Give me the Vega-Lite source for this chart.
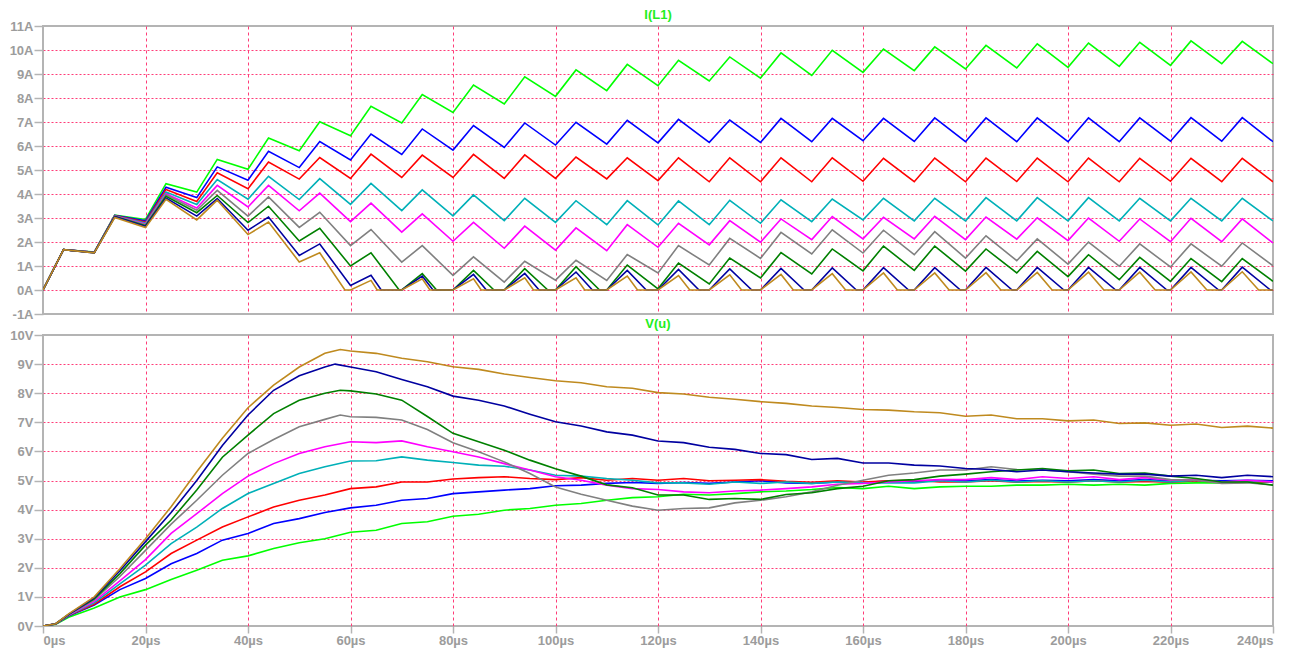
{
  "$schema": "https://vega.github.io/schema/vega-lite/v6.json",
  "background": "white",
  "padding": {"left": 8, "top": 8, "right": 0, "bottom": 0},
  "bounds": "flush",
  "spacing": 21,
  "config": {
    "font": "Liberation Sans",
    "view": {"stroke": "#b4b4b4", "strokeWidth": 2},
    "axis": {
      "labelColor": "#9c9c9c",
      "labelFont": "Liberation Sans",
      "labelFontWeight": "bold",
      "labelFontSize": 13,
      "tickColor": "#b4b4b4",
      "tickWidth": 1.5,
      "domain": false,
      "gridColor": "#ff3c78",
      "gridWidth": 1,
      "title": null
    },
    "title": {"font": "Liberation Sans", "fontSize": 13, "fontWeight": "bold", "color": "#22ee22", "anchor": "middle", "offset": -2}
  },
  "datasets": {
    "cur": [
      {"s":1,"t":0,"v":0},{"s":1,"t":4,"v":1.68},{"s":1,"t":10,"v":1.58},{"s":1,"t":14,"v":3.12},{"s":1,"t":20,"v":2.94},{"s":1,"t":24,"v":4.43},{"s":1,"t":30,"v":4.08},{"s":1,"t":34,"v":5.44},{"s":1,"t":40,"v":5.03},{"s":1,"t":44,"v":6.33},{"s":1,"t":50,"v":5.8},{"s":1,"t":54,"v":7.01},{"s":1,"t":60,"v":6.43},{"s":1,"t":64,"v":7.65},{"s":1,"t":70,"v":6.96},{"s":1,"t":74,"v":8.14},{"s":1,"t":80,"v":7.4},{"s":1,"t":84,"v":8.54},{"s":1,"t":90,"v":7.75},{"s":1,"t":94,"v":8.88},{"s":1,"t":100,"v":8.07},{"s":1,"t":104,"v":9.17},{"s":1,"t":110,"v":8.31},{"s":1,"t":114,"v":9.4},{"s":1,"t":120,"v":8.51},{"s":1,"t":124,"v":9.57},{"s":1,"t":130,"v":8.71},{"s":1,"t":134,"v":9.71},{"s":1,"t":140,"v":8.83},{"s":1,"t":144,"v":9.88},{"s":1,"t":150,"v":8.94},{"s":1,"t":154,"v":9.99},{"s":1,"t":160,"v":9.07},{"s":1,"t":164,"v":10.04},{"s":1,"t":170,"v":9.14},{"s":1,"t":174,"v":10.13},{"s":1,"t":180,"v":9.21},{"s":1,"t":184,"v":10.19},{"s":1,"t":190,"v":9.25},{"s":1,"t":194,"v":10.26},{"s":1,"t":200,"v":9.28},{"s":1,"t":204,"v":10.29},{"s":1,"t":210,"v":9.32},{"s":1,"t":214,"v":10.32},{"s":1,"t":220,"v":9.36},{"s":1,"t":224,"v":10.38},{"s":1,"t":230,"v":9.43},{"s":1,"t":234,"v":10.36},{"s":1,"t":240,"v":9.43},
      {"s":2,"t":0,"v":0},{"s":2,"t":4,"v":1.68},{"s":2,"t":10,"v":1.57},{"s":2,"t":14,"v":3.11},{"s":2,"t":20,"v":2.88},{"s":2,"t":24,"v":4.28},{"s":2,"t":30,"v":3.85},{"s":2,"t":34,"v":5.13},{"s":2,"t":40,"v":4.57},{"s":2,"t":44,"v":5.78},{"s":2,"t":50,"v":5.1},{"s":2,"t":54,"v":6.19},{"s":2,"t":60,"v":5.42},{"s":2,"t":64,"v":6.5},{"s":2,"t":70,"v":5.65},{"s":2,"t":74,"v":6.71},{"s":2,"t":80,"v":5.83},{"s":2,"t":84,"v":6.85},{"s":2,"t":90,"v":5.94},{"s":2,"t":94,"v":6.96},{"s":2,"t":100,"v":6.04},{"s":2,"t":104,"v":6.99},{"s":2,"t":110,"v":6.08},{"s":2,"t":114,"v":7.07},{"s":2,"t":120,"v":6.13},{"s":2,"t":124,"v":7.11},{"s":2,"t":130,"v":6.15},{"s":2,"t":134,"v":7.08},{"s":2,"t":140,"v":6.15},{"s":2,"t":144,"v":7.15},{"s":2,"t":150,"v":6.18},{"s":2,"t":154,"v":7.15},{"s":2,"t":160,"v":6.22},{"s":2,"t":164,"v":7.15},{"s":2,"t":170,"v":6.19},{"s":2,"t":174,"v":7.17},{"s":2,"t":180,"v":6.18},{"s":2,"t":184,"v":7.17},{"s":2,"t":190,"v":6.18},{"s":2,"t":194,"v":7.17},{"s":2,"t":200,"v":6.18},{"s":2,"t":204,"v":7.17},{"s":2,"t":210,"v":6.18},{"s":2,"t":214,"v":7.17},{"s":2,"t":220,"v":6.2},{"s":2,"t":224,"v":7.18},{"s":2,"t":230,"v":6.2},{"s":2,"t":234,"v":7.18},{"s":2,"t":240,"v":6.18},
      {"s":3,"t":0,"v":0},{"s":3,"t":4,"v":1.68},{"s":3,"t":10,"v":1.57},{"s":3,"t":14,"v":3.1},{"s":3,"t":20,"v":2.83},{"s":3,"t":24,"v":4.19},{"s":3,"t":30,"v":3.69},{"s":3,"t":34,"v":4.88},{"s":3,"t":40,"v":4.22},{"s":3,"t":44,"v":5.33},{"s":3,"t":50,"v":4.62},{"s":3,"t":54,"v":5.52},{"s":3,"t":60,"v":4.65},{"s":3,"t":64,"v":5.66},{"s":3,"t":70,"v":4.69},{"s":3,"t":74,"v":5.62},{"s":3,"t":80,"v":4.69},{"s":3,"t":84,"v":5.65},{"s":3,"t":90,"v":4.65},{"s":3,"t":94,"v":5.63},{"s":3,"t":100,"v":4.65},{"s":3,"t":104,"v":5.54},{"s":3,"t":110,"v":4.63},{"s":3,"t":114,"v":5.51},{"s":3,"t":120,"v":4.56},{"s":3,"t":124,"v":5.51},{"s":3,"t":130,"v":4.51},{"s":3,"t":134,"v":5.51},{"s":3,"t":140,"v":4.51},{"s":3,"t":144,"v":5.51},{"s":3,"t":150,"v":4.51},{"s":3,"t":154,"v":5.51},{"s":3,"t":160,"v":4.53},{"s":3,"t":164,"v":5.49},{"s":3,"t":170,"v":4.51},{"s":3,"t":174,"v":5.5},{"s":3,"t":180,"v":4.51},{"s":3,"t":184,"v":5.5},{"s":3,"t":190,"v":4.52},{"s":3,"t":194,"v":5.5},{"s":3,"t":200,"v":4.51},{"s":3,"t":204,"v":5.5},{"s":3,"t":210,"v":4.51},{"s":3,"t":214,"v":5.49},{"s":3,"t":220,"v":4.53},{"s":3,"t":224,"v":5.49},{"s":3,"t":230,"v":4.51},{"s":3,"t":234,"v":5.49},{"s":3,"t":240,"v":4.51},
      {"s":4,"t":0,"v":0},{"s":4,"t":4,"v":1.68},{"s":4,"t":10,"v":1.57},{"s":4,"t":14,"v":3.09},{"s":4,"t":20,"v":2.79},{"s":4,"t":24,"v":4.08},{"s":4,"t":30,"v":3.56},{"s":4,"t":34,"v":4.6},{"s":4,"t":40,"v":3.78},{"s":4,"t":44,"v":4.74},{"s":4,"t":50,"v":3.77},{"s":4,"t":54,"v":4.64},{"s":4,"t":60,"v":3.57},{"s":4,"t":64,"v":4.44},{"s":4,"t":70,"v":3.31},{"s":4,"t":74,"v":4.17},{"s":4,"t":80,"v":3.09},{"s":4,"t":84,"v":3.96},{"s":4,"t":90,"v":2.89},{"s":4,"t":94,"v":3.82},{"s":4,"t":100,"v":2.82},{"s":4,"t":104,"v":3.72},{"s":4,"t":110,"v":2.72},{"s":4,"t":114,"v":3.72},{"s":4,"t":120,"v":2.71},{"s":4,"t":124,"v":3.71},{"s":4,"t":130,"v":2.72},{"s":4,"t":134,"v":3.74},{"s":4,"t":140,"v":2.78},{"s":4,"t":144,"v":3.76},{"s":4,"t":150,"v":2.85},{"s":4,"t":154,"v":3.79},{"s":4,"t":160,"v":2.92},{"s":4,"t":164,"v":3.82},{"s":4,"t":170,"v":2.88},{"s":4,"t":174,"v":3.82},{"s":4,"t":180,"v":2.88},{"s":4,"t":184,"v":3.85},{"s":4,"t":190,"v":2.88},{"s":4,"t":194,"v":3.85},{"s":4,"t":200,"v":2.88},{"s":4,"t":204,"v":3.85},{"s":4,"t":210,"v":2.88},{"s":4,"t":214,"v":3.82},{"s":4,"t":220,"v":2.88},{"s":4,"t":224,"v":3.82},{"s":4,"t":230,"v":2.88},{"s":4,"t":234,"v":3.82},{"s":4,"t":240,"v":2.88},
      {"s":5,"t":0,"v":0},{"s":5,"t":4,"v":1.68},{"s":5,"t":10,"v":1.57},{"s":5,"t":14,"v":3.08},{"s":5,"t":20,"v":2.75},{"s":5,"t":24,"v":4.01},{"s":5,"t":30,"v":3.42},{"s":5,"t":34,"v":4.36},{"s":5,"t":40,"v":3.46},{"s":5,"t":44,"v":4.36},{"s":5,"t":50,"v":3.3},{"s":5,"t":54,"v":4.04},{"s":5,"t":60,"v":2.85},{"s":5,"t":64,"v":3.62},{"s":5,"t":70,"v":2.41},{"s":5,"t":74,"v":3.17},{"s":5,"t":80,"v":2.03},{"s":5,"t":84,"v":2.82},{"s":5,"t":90,"v":1.74},{"s":5,"t":94,"v":2.66},{"s":5,"t":100,"v":1.66},{"s":5,"t":104,"v":2.59},{"s":5,"t":110,"v":1.64},{"s":5,"t":114,"v":2.72},{"s":5,"t":120,"v":1.78},{"s":5,"t":124,"v":2.78},{"s":5,"t":130,"v":1.88},{"s":5,"t":134,"v":2.89},{"s":5,"t":140,"v":1.99},{"s":5,"t":144,"v":2.96},{"s":5,"t":150,"v":2.1},{"s":5,"t":154,"v":3.06},{"s":5,"t":160,"v":2.13},{"s":5,"t":164,"v":3.03},{"s":5,"t":170,"v":2.13},{"s":5,"t":174,"v":3.07},{"s":5,"t":180,"v":2.1},{"s":5,"t":184,"v":3.04},{"s":5,"t":190,"v":2.12},{"s":5,"t":194,"v":3.01},{"s":5,"t":200,"v":2.06},{"s":5,"t":204,"v":3.0},{"s":5,"t":210,"v":2.03},{"s":5,"t":214,"v":2.96},{"s":5,"t":220,"v":2.01},{"s":5,"t":224,"v":2.99},{"s":5,"t":230,"v":2.01},{"s":5,"t":234,"v":2.96},{"s":5,"t":240,"v":1.96},
      {"s":6,"t":0,"v":0},{"s":6,"t":4,"v":1.68},{"s":6,"t":10,"v":1.56},{"s":6,"t":14,"v":3.07},{"s":6,"t":20,"v":2.72},{"s":6,"t":24,"v":3.97},{"s":6,"t":30,"v":3.32},{"s":6,"t":34,"v":4.15},{"s":6,"t":40,"v":3.08},{"s":6,"t":44,"v":3.88},{"s":6,"t":50,"v":2.61},{"s":6,"t":54,"v":3.24},{"s":6,"t":60,"v":1.85},{"s":6,"t":64,"v":2.52},{"s":6,"t":70,"v":1.16},{"s":6,"t":74,"v":1.85},{"s":6,"t":80,"v":0.61},{"s":6,"t":84,"v":1.38},{"s":6,"t":90,"v":0.33},{"s":6,"t":94,"v":1.2},{"s":6,"t":100,"v":0.41},{"s":6,"t":104,"v":1.24},{"s":6,"t":110,"v":0.4},{"s":6,"t":114,"v":1.48},{"s":6,"t":120,"v":0.71},{"s":6,"t":124,"v":1.85},{"s":6,"t":130,"v":1.04},{"s":6,"t":134,"v":2.15},{"s":6,"t":140,"v":1.32},{"s":6,"t":144,"v":2.4},{"s":6,"t":150,"v":1.5},{"s":6,"t":154,"v":2.51},{"s":6,"t":160,"v":1.54},{"s":6,"t":164,"v":2.49},{"s":6,"t":170,"v":1.47},{"s":6,"t":174,"v":2.43},{"s":6,"t":180,"v":1.33},{"s":6,"t":184,"v":2.26},{"s":6,"t":190,"v":1.22},{"s":6,"t":194,"v":2.13},{"s":6,"t":200,"v":1.08},{"s":6,"t":204,"v":2.0},{"s":6,"t":210,"v":0.99},{"s":6,"t":214,"v":1.92},{"s":6,"t":220,"v":0.96},{"s":6,"t":224,"v":1.92},{"s":6,"t":230,"v":0.99},{"s":6,"t":234,"v":1.96},{"s":6,"t":240,"v":1.01},
      {"s":7,"t":0,"v":0},{"s":7,"t":4,"v":1.68},{"s":7,"t":10,"v":1.56},{"s":7,"t":14,"v":3.06},{"s":7,"t":20,"v":2.68},{"s":7,"t":24,"v":3.9},{"s":7,"t":30,"v":3.22},{"s":7,"t":34,"v":3.94},{"s":7,"t":40,"v":2.81},{"s":7,"t":44,"v":3.49},{"s":7,"t":50,"v":2.04},{"s":7,"t":54,"v":2.57},{"s":7,"t":60,"v":1.0},{"s":7,"t":64,"v":1.55},{"s":7,"t":69.5,"v":0},{"s":7,"t":70,"v":0},{"s":7,"t":74,"v":0.68},{"s":7,"t":76.8,"v":0},{"s":7,"t":80,"v":0},{"s":7,"t":84,"v":0.82},{"s":7,"t":88,"v":0},{"s":7,"t":90,"v":0},{"s":7,"t":94,"v":0.89},{"s":7,"t":98.5,"v":0},{"s":7,"t":100,"v":0},{"s":7,"t":104,"v":0.97},{"s":7,"t":108.6,"v":0},{"s":7,"t":110,"v":0},{"s":7,"t":114,"v":1.04},{"s":7,"t":120,"v":0.05},{"s":7,"t":124,"v":1.12},{"s":7,"t":130,"v":0.25},{"s":7,"t":134,"v":1.33},{"s":7,"t":140,"v":0.5},{"s":7,"t":144,"v":1.56},{"s":7,"t":150,"v":0.67},{"s":7,"t":154,"v":1.71},{"s":7,"t":160,"v":0.8},{"s":7,"t":164,"v":1.83},{"s":7,"t":170,"v":0.82},{"s":7,"t":174,"v":1.83},{"s":7,"t":180,"v":0.79},{"s":7,"t":184,"v":1.71},{"s":7,"t":190,"v":0.71},{"s":7,"t":194,"v":1.61},{"s":7,"t":200,"v":0.56},{"s":7,"t":204,"v":1.47},{"s":7,"t":210,"v":0.43},{"s":7,"t":214,"v":1.36},{"s":7,"t":220,"v":0.36},{"s":7,"t":224,"v":1.31},{"s":7,"t":230,"v":0.35},{"s":7,"t":234,"v":1.31},{"s":7,"t":240,"v":0.36},
      {"s":8,"t":0,"v":0},{"s":8,"t":4,"v":1.68},{"s":8,"t":10,"v":1.55},{"s":8,"t":14,"v":3.05},{"s":8,"t":20,"v":2.65},{"s":8,"t":24,"v":3.83},{"s":8,"t":30,"v":3.08},{"s":8,"t":34,"v":3.81},{"s":8,"t":40,"v":2.49},{"s":8,"t":44,"v":3.04},{"s":8,"t":50,"v":1.44},{"s":8,"t":54,"v":1.92},{"s":8,"t":60,"v":0.19},{"s":8,"t":64,"v":0.61},{"s":8,"t":66,"v":0},{"s":8,"t":70,"v":0},{"s":8,"t":74,"v":0.58},{"s":8,"t":76.1,"v":0},{"s":8,"t":80,"v":0},{"s":8,"t":84,"v":0.65},{"s":8,"t":86.5,"v":0},{"s":8,"t":90,"v":0},{"s":8,"t":94,"v":0.69},{"s":8,"t":96.8,"v":0},{"s":8,"t":100,"v":0},{"s":8,"t":104,"v":0.75},{"s":8,"t":107.2,"v":0},{"s":8,"t":110,"v":0},{"s":8,"t":114,"v":0.82},{"s":8,"t":117.7,"v":0},{"s":8,"t":120,"v":0},{"s":8,"t":124,"v":0.86},{"s":8,"t":128,"v":0},{"s":8,"t":130,"v":0},{"s":8,"t":134,"v":0.88},{"s":8,"t":138.3,"v":0},{"s":8,"t":140,"v":0},{"s":8,"t":144,"v":0.9},{"s":8,"t":148.5,"v":0},{"s":8,"t":150,"v":0},{"s":8,"t":154,"v":0.92},{"s":8,"t":158.7,"v":0},{"s":8,"t":160,"v":0},{"s":8,"t":164,"v":0.93},{"s":8,"t":168.9,"v":0},{"s":8,"t":170,"v":0},{"s":8,"t":174,"v":0.93},{"s":8,"t":179,"v":0},{"s":8,"t":180,"v":0},{"s":8,"t":184,"v":0.94},{"s":8,"t":189.1,"v":0},{"s":8,"t":190,"v":0},{"s":8,"t":194,"v":0.94},{"s":8,"t":199.2,"v":0},{"s":8,"t":200,"v":0},{"s":8,"t":204,"v":0.94},{"s":8,"t":209.3,"v":0},{"s":8,"t":210,"v":0},{"s":8,"t":214,"v":0.94},{"s":8,"t":219.3,"v":0},{"s":8,"t":220,"v":0},{"s":8,"t":224,"v":0.94},{"s":8,"t":229.4,"v":0},{"s":8,"t":230,"v":0},{"s":8,"t":234,"v":0.95},{"s":8,"t":239.5,"v":0},{"s":8,"t":240,"v":0},
      {"s":9,"t":0,"v":0},{"s":9,"t":4,"v":1.68},{"s":9,"t":10,"v":1.55},{"s":9,"t":14,"v":3.02},{"s":9,"t":20,"v":2.6},{"s":9,"t":24,"v":3.78},{"s":9,"t":30,"v":2.92},{"s":9,"t":34,"v":3.74},{"s":9,"t":40,"v":2.31},{"s":9,"t":44,"v":2.83},{"s":9,"t":50,"v":1.17},{"s":9,"t":54,"v":1.55},{"s":9,"t":58.9,"v":0},{"s":9,"t":60,"v":0},{"s":9,"t":64,"v":0.4},{"s":9,"t":65.2,"v":0},{"s":9,"t":70,"v":0},{"s":9,"t":74,"v":0.47},{"s":9,"t":75.5,"v":0},{"s":9,"t":80,"v":0},{"s":9,"t":84,"v":0.47},{"s":9,"t":85.5,"v":0},{"s":9,"t":90,"v":0},{"s":9,"t":94,"v":0.51},{"s":9,"t":95.7,"v":0},{"s":9,"t":100,"v":0},{"s":9,"t":104,"v":0.51},{"s":9,"t":105.7,"v":0},{"s":9,"t":110,"v":0},{"s":9,"t":114,"v":0.58},{"s":9,"t":116,"v":0},{"s":9,"t":120,"v":0},{"s":9,"t":124,"v":0.6},{"s":9,"t":126.2,"v":0},{"s":9,"t":130,"v":0},{"s":9,"t":134,"v":0.63},{"s":9,"t":136.3,"v":0},{"s":9,"t":140,"v":0},{"s":9,"t":144,"v":0.65},{"s":9,"t":146.4,"v":0},{"s":9,"t":150,"v":0},{"s":9,"t":154,"v":0.68},{"s":9,"t":156.6,"v":0},{"s":9,"t":160,"v":0},{"s":9,"t":164,"v":0.71},{"s":9,"t":166.7,"v":0},{"s":9,"t":170,"v":0},{"s":9,"t":174,"v":0.71},{"s":9,"t":176.8,"v":0},{"s":9,"t":180,"v":0},{"s":9,"t":184,"v":0.72},{"s":9,"t":186.9,"v":0},{"s":9,"t":190,"v":0},{"s":9,"t":194,"v":0.73},{"s":9,"t":196.9,"v":0},{"s":9,"t":200,"v":0},{"s":9,"t":204,"v":0.74},{"s":9,"t":207,"v":0},{"s":9,"t":210,"v":0},{"s":9,"t":214,"v":0.74},{"s":9,"t":217,"v":0},{"s":9,"t":220,"v":0},{"s":9,"t":224,"v":0.75},{"s":9,"t":227.1,"v":0},{"s":9,"t":230,"v":0},{"s":9,"t":234,"v":0.76},{"s":9,"t":237.2,"v":0},{"s":9,"t":240,"v":0}
    ],
    "volt": [
      {"s":1,"t":0,"v":0},{"s":1,"t":2.5,"v":0.06},{"s":1,"t":5,"v":0.3},{"s":1,"t":10,"v":0.62},{"s":1,"t":15,"v":1.0},{"s":1,"t":20,"v":1.25},{"s":1,"t":25,"v":1.6},{"s":1,"t":30,"v":1.92},{"s":1,"t":35,"v":2.26},{"s":1,"t":40,"v":2.41},{"s":1,"t":45,"v":2.66},{"s":1,"t":50,"v":2.86},{"s":1,"t":55,"v":3.0},{"s":1,"t":60,"v":3.22},{"s":1,"t":65,"v":3.29},{"s":1,"t":70,"v":3.52},{"s":1,"t":75,"v":3.58},{"s":1,"t":80,"v":3.77},{"s":1,"t":85,"v":3.84},{"s":1,"t":90,"v":3.98},{"s":1,"t":95,"v":4.04},{"s":1,"t":100,"v":4.15},{"s":1,"t":105,"v":4.21},{"s":1,"t":110,"v":4.32},{"s":1,"t":115,"v":4.41},{"s":1,"t":120,"v":4.44},{"s":1,"t":125,"v":4.53},{"s":1,"t":130,"v":4.5},{"s":1,"t":135,"v":4.55},{"s":1,"t":140,"v":4.61},{"s":1,"t":145,"v":4.64},{"s":1,"t":150,"v":4.69},{"s":1,"t":155,"v":4.76},{"s":1,"t":160,"v":4.72},{"s":1,"t":165,"v":4.8},{"s":1,"t":170,"v":4.72},{"s":1,"t":175,"v":4.78},{"s":1,"t":180,"v":4.8},{"s":1,"t":185,"v":4.8},{"s":1,"t":190,"v":4.84},{"s":1,"t":195,"v":4.84},{"s":1,"t":200,"v":4.87},{"s":1,"t":205,"v":4.84},{"s":1,"t":210,"v":4.87},{"s":1,"t":215,"v":4.84},{"s":1,"t":220,"v":4.9},{"s":1,"t":225,"v":4.92},{"s":1,"t":230,"v":4.92},{"s":1,"t":235,"v":4.93},{"s":1,"t":240,"v":4.95},
      {"s":2,"t":0,"v":0},{"s":2,"t":2.5,"v":0.07},{"s":2,"t":5,"v":0.34},{"s":2,"t":10,"v":0.72},{"s":2,"t":15,"v":1.25},{"s":2,"t":20,"v":1.63},{"s":2,"t":25,"v":2.14},{"s":2,"t":30,"v":2.49},{"s":2,"t":35,"v":2.95},{"s":2,"t":40,"v":3.18},{"s":2,"t":45,"v":3.52},{"s":2,"t":50,"v":3.69},{"s":2,"t":55,"v":3.9},{"s":2,"t":60,"v":4.06},{"s":2,"t":65,"v":4.15},{"s":2,"t":70,"v":4.32},{"s":2,"t":75,"v":4.38},{"s":2,"t":80,"v":4.55},{"s":2,"t":85,"v":4.61},{"s":2,"t":90,"v":4.67},{"s":2,"t":95,"v":4.72},{"s":2,"t":100,"v":4.82},{"s":2,"t":105,"v":4.84},{"s":2,"t":110,"v":4.9},{"s":2,"t":115,"v":4.93},{"s":2,"t":120,"v":4.9},{"s":2,"t":125,"v":4.93},{"s":2,"t":130,"v":4.9},{"s":2,"t":135,"v":4.95},{"s":2,"t":140,"v":4.99},{"s":2,"t":145,"v":4.92},{"s":2,"t":150,"v":4.9},{"s":2,"t":155,"v":4.95},{"s":2,"t":160,"v":4.92},{"s":2,"t":165,"v":4.99},{"s":2,"t":170,"v":4.95},{"s":2,"t":175,"v":5.01},{"s":2,"t":180,"v":4.99},{"s":2,"t":185,"v":5.03},{"s":2,"t":190,"v":4.98},{"s":2,"t":195,"v":5.01},{"s":2,"t":200,"v":4.99},{"s":2,"t":205,"v":5.03},{"s":2,"t":210,"v":4.99},{"s":2,"t":215,"v":5.03},{"s":2,"t":220,"v":4.99},{"s":2,"t":225,"v":5.01},{"s":2,"t":230,"v":4.99},{"s":2,"t":235,"v":5.01},{"s":2,"t":240,"v":4.99},
      {"s":3,"t":0,"v":0},{"s":3,"t":2.5,"v":0.07},{"s":3,"t":5,"v":0.36},{"s":3,"t":10,"v":0.75},{"s":3,"t":15,"v":1.35},{"s":3,"t":20,"v":1.86},{"s":3,"t":25,"v":2.49},{"s":3,"t":30,"v":2.95},{"s":3,"t":35,"v":3.4},{"s":3,"t":40,"v":3.75},{"s":3,"t":45,"v":4.09},{"s":3,"t":50,"v":4.32},{"s":3,"t":55,"v":4.5},{"s":3,"t":60,"v":4.72},{"s":3,"t":65,"v":4.78},{"s":3,"t":70,"v":4.95},{"s":3,"t":75,"v":4.95},{"s":3,"t":80,"v":5.05},{"s":3,"t":85,"v":5.1},{"s":3,"t":90,"v":5.13},{"s":3,"t":95,"v":5.07},{"s":3,"t":100,"v":5.03},{"s":3,"t":105,"v":5.1},{"s":3,"t":110,"v":5.01},{"s":3,"t":115,"v":5.07},{"s":3,"t":120,"v":5.01},{"s":3,"t":125,"v":5.07},{"s":3,"t":130,"v":4.99},{"s":3,"t":135,"v":5.01},{"s":3,"t":140,"v":5.03},{"s":3,"t":145,"v":4.97},{"s":3,"t":150,"v":4.94},{"s":3,"t":155,"v":4.99},{"s":3,"t":160,"v":4.95},{"s":3,"t":165,"v":4.99},{"s":3,"t":170,"v":5.01},{"s":3,"t":175,"v":4.95},{"s":3,"t":180,"v":4.95},{"s":3,"t":185,"v":4.99},{"s":3,"t":190,"v":4.94},{"s":3,"t":195,"v":4.97},{"s":3,"t":200,"v":4.94},{"s":3,"t":205,"v":4.99},{"s":3,"t":210,"v":4.94},{"s":3,"t":215,"v":4.97},{"s":3,"t":220,"v":4.94},{"s":3,"t":225,"v":4.99},{"s":3,"t":230,"v":4.94},{"s":3,"t":235,"v":4.97},{"s":3,"t":240,"v":4.94},
      {"s":4,"t":0,"v":0},{"s":4,"t":2.5,"v":0.07},{"s":4,"t":5,"v":0.37},{"s":4,"t":10,"v":0.8},{"s":4,"t":15,"v":1.45},{"s":4,"t":20,"v":2.09},{"s":4,"t":25,"v":2.83},{"s":4,"t":30,"v":3.4},{"s":4,"t":35,"v":4.04},{"s":4,"t":40,"v":4.55},{"s":4,"t":45,"v":4.9},{"s":4,"t":50,"v":5.24},{"s":4,"t":55,"v":5.47},{"s":4,"t":60,"v":5.67},{"s":4,"t":65,"v":5.68},{"s":4,"t":70,"v":5.81},{"s":4,"t":75,"v":5.7},{"s":4,"t":80,"v":5.62},{"s":4,"t":85,"v":5.53},{"s":4,"t":90,"v":5.49},{"s":4,"t":95,"v":5.36},{"s":4,"t":100,"v":5.18},{"s":4,"t":105,"v":5.15},{"s":4,"t":110,"v":5.07},{"s":4,"t":115,"v":5.01},{"s":4,"t":120,"v":4.92},{"s":4,"t":125,"v":4.92},{"s":4,"t":130,"v":4.87},{"s":4,"t":135,"v":4.95},{"s":4,"t":140,"v":4.9},{"s":4,"t":145,"v":4.95},{"s":4,"t":150,"v":4.9},{"s":4,"t":155,"v":4.95},{"s":4,"t":160,"v":4.92},{"s":4,"t":165,"v":4.92},{"s":4,"t":170,"v":4.92},{"s":4,"t":175,"v":4.99},{"s":4,"t":180,"v":4.95},{"s":4,"t":185,"v":5.01},{"s":4,"t":190,"v":4.95},{"s":4,"t":195,"v":4.99},{"s":4,"t":200,"v":4.95},{"s":4,"t":205,"v":4.99},{"s":4,"t":210,"v":4.95},{"s":4,"t":215,"v":5.01},{"s":4,"t":220,"v":4.95},{"s":4,"t":225,"v":5.01},{"s":4,"t":230,"v":4.95},{"s":4,"t":235,"v":4.99},{"s":4,"t":240,"v":4.95},
      {"s":5,"t":0,"v":0},{"s":5,"t":2.5,"v":0.08},{"s":5,"t":5,"v":0.38},{"s":5,"t":10,"v":0.85},{"s":5,"t":15,"v":1.55},{"s":5,"t":20,"v":2.28},{"s":5,"t":25,"v":3.18},{"s":5,"t":30,"v":3.86},{"s":5,"t":35,"v":4.55},{"s":5,"t":40,"v":5.15},{"s":5,"t":45,"v":5.58},{"s":5,"t":50,"v":5.93},{"s":5,"t":55,"v":6.16},{"s":5,"t":60,"v":6.33},{"s":5,"t":65,"v":6.3},{"s":5,"t":70,"v":6.36},{"s":5,"t":75,"v":6.16},{"s":5,"t":80,"v":5.99},{"s":5,"t":85,"v":5.81},{"s":5,"t":90,"v":5.58},{"s":5,"t":95,"v":5.36},{"s":5,"t":100,"v":5.13},{"s":5,"t":105,"v":5.01},{"s":5,"t":110,"v":4.84},{"s":5,"t":115,"v":4.72},{"s":5,"t":120,"v":4.69},{"s":5,"t":125,"v":4.61},{"s":5,"t":130,"v":4.58},{"s":5,"t":135,"v":4.64},{"s":5,"t":140,"v":4.67},{"s":5,"t":145,"v":4.72},{"s":5,"t":150,"v":4.78},{"s":5,"t":155,"v":4.87},{"s":5,"t":160,"v":4.9},{"s":5,"t":165,"v":4.95},{"s":5,"t":170,"v":4.99},{"s":5,"t":175,"v":5.03},{"s":5,"t":180,"v":5.03},{"s":5,"t":185,"v":5.1},{"s":5,"t":190,"v":5.03},{"s":5,"t":195,"v":5.13},{"s":5,"t":200,"v":5.07},{"s":5,"t":205,"v":5.13},{"s":5,"t":210,"v":5.03},{"s":5,"t":215,"v":5.1},{"s":5,"t":220,"v":5.01},{"s":5,"t":225,"v":5.03},{"s":5,"t":230,"v":4.95},{"s":5,"t":235,"v":5.01},{"s":5,"t":240,"v":4.95},
      {"s":6,"t":0,"v":0},{"s":6,"t":2.5,"v":0.08},{"s":6,"t":5,"v":0.39},{"s":6,"t":10,"v":0.9},{"s":6,"t":15,"v":1.7},{"s":6,"t":20,"v":2.6},{"s":6,"t":25,"v":3.5},{"s":6,"t":30,"v":4.32},{"s":6,"t":35,"v":5.18},{"s":6,"t":40,"v":5.93},{"s":6,"t":45,"v":6.41},{"s":6,"t":50,"v":6.85},{"s":6,"t":55,"v":7.1},{"s":6,"t":58,"v":7.25},{"s":6,"t":60,"v":7.19},{"s":6,"t":65,"v":7.17},{"s":6,"t":70,"v":7.08},{"s":6,"t":75,"v":6.75},{"s":6,"t":80,"v":6.3},{"s":6,"t":85,"v":5.99},{"s":6,"t":90,"v":5.64},{"s":6,"t":95,"v":5.24},{"s":6,"t":100,"v":4.78},{"s":6,"t":105,"v":4.53},{"s":6,"t":110,"v":4.32},{"s":6,"t":115,"v":4.12},{"s":6,"t":120,"v":3.98},{"s":6,"t":125,"v":4.04},{"s":6,"t":130,"v":4.06},{"s":6,"t":135,"v":4.23},{"s":6,"t":140,"v":4.32},{"s":6,"t":145,"v":4.44},{"s":6,"t":150,"v":4.61},{"s":6,"t":155,"v":4.84},{"s":6,"t":160,"v":5.01},{"s":6,"t":165,"v":5.18},{"s":6,"t":170,"v":5.26},{"s":6,"t":175,"v":5.36},{"s":6,"t":180,"v":5.36},{"s":6,"t":185,"v":5.47},{"s":6,"t":190,"v":5.38},{"s":6,"t":195,"v":5.36},{"s":6,"t":200,"v":5.3},{"s":6,"t":205,"v":5.22},{"s":6,"t":210,"v":5.15},{"s":6,"t":215,"v":5.15},{"s":6,"t":220,"v":5.03},{"s":6,"t":225,"v":5.01},{"s":6,"t":230,"v":4.9},{"s":6,"t":235,"v":4.92},{"s":6,"t":240,"v":4.84},
      {"s":7,"t":0,"v":0},{"s":7,"t":2.5,"v":0.08},{"s":7,"t":5,"v":0.4},{"s":7,"t":10,"v":0.93},{"s":7,"t":15,"v":1.8},{"s":7,"t":20,"v":2.78},{"s":7,"t":25,"v":3.64},{"s":7,"t":30,"v":4.67},{"s":7,"t":35,"v":5.8},{"s":7,"t":40,"v":6.56},{"s":7,"t":45,"v":7.3},{"s":7,"t":50,"v":7.76},{"s":7,"t":55,"v":8.0},{"s":7,"t":58,"v":8.1},{"s":7,"t":60,"v":8.08},{"s":7,"t":65,"v":7.97},{"s":7,"t":70,"v":7.76},{"s":7,"t":75,"v":7.2},{"s":7,"t":80,"v":6.62},{"s":7,"t":85,"v":6.33},{"s":7,"t":90,"v":6.04},{"s":7,"t":95,"v":5.7},{"s":7,"t":100,"v":5.4},{"s":7,"t":105,"v":5.15},{"s":7,"t":110,"v":4.85},{"s":7,"t":115,"v":4.75},{"s":7,"t":120,"v":4.5},{"s":7,"t":125,"v":4.5},{"s":7,"t":130,"v":4.35},{"s":7,"t":135,"v":4.38},{"s":7,"t":140,"v":4.35},{"s":7,"t":145,"v":4.52},{"s":7,"t":150,"v":4.58},{"s":7,"t":155,"v":4.72},{"s":7,"t":160,"v":4.8},{"s":7,"t":165,"v":4.99},{"s":7,"t":170,"v":5.03},{"s":7,"t":175,"v":5.15},{"s":7,"t":180,"v":5.22},{"s":7,"t":185,"v":5.3},{"s":7,"t":190,"v":5.36},{"s":7,"t":195,"v":5.41},{"s":7,"t":200,"v":5.33},{"s":7,"t":205,"v":5.36},{"s":7,"t":210,"v":5.24},{"s":7,"t":215,"v":5.26},{"s":7,"t":220,"v":5.15},{"s":7,"t":225,"v":5.07},{"s":7,"t":230,"v":4.95},{"s":7,"t":235,"v":4.95},{"s":7,"t":240,"v":4.84},
      {"s":8,"t":0,"v":0},{"s":8,"t":2.5,"v":0.08},{"s":8,"t":5,"v":0.4},{"s":8,"t":10,"v":0.97},{"s":8,"t":15,"v":1.9},{"s":8,"t":20,"v":2.9},{"s":8,"t":25,"v":3.9},{"s":8,"t":30,"v":5.0},{"s":8,"t":35,"v":6.2},{"s":8,"t":40,"v":7.25},{"s":8,"t":45,"v":8.1},{"s":8,"t":50,"v":8.6},{"s":8,"t":55,"v":8.9},{"s":8,"t":57,"v":9.0},{"s":8,"t":60,"v":8.9},{"s":8,"t":65,"v":8.74},{"s":8,"t":70,"v":8.47},{"s":8,"t":75,"v":8.22},{"s":8,"t":80,"v":7.9},{"s":8,"t":85,"v":7.76},{"s":8,"t":90,"v":7.56},{"s":8,"t":95,"v":7.28},{"s":8,"t":100,"v":7.02},{"s":8,"t":105,"v":6.87},{"s":8,"t":110,"v":6.67},{"s":8,"t":115,"v":6.56},{"s":8,"t":120,"v":6.36},{"s":8,"t":125,"v":6.3},{"s":8,"t":130,"v":6.14},{"s":8,"t":135,"v":6.07},{"s":8,"t":140,"v":5.93},{"s":8,"t":145,"v":5.89},{"s":8,"t":150,"v":5.72},{"s":8,"t":155,"v":5.76},{"s":8,"t":160,"v":5.6},{"s":8,"t":165,"v":5.6},{"s":8,"t":170,"v":5.53},{"s":8,"t":175,"v":5.5},{"s":8,"t":180,"v":5.41},{"s":8,"t":185,"v":5.38},{"s":8,"t":190,"v":5.3},{"s":8,"t":195,"v":5.36},{"s":8,"t":200,"v":5.3},{"s":8,"t":205,"v":5.26},{"s":8,"t":210,"v":5.22},{"s":8,"t":215,"v":5.22},{"s":8,"t":220,"v":5.15},{"s":8,"t":225,"v":5.18},{"s":8,"t":230,"v":5.1},{"s":8,"t":235,"v":5.18},{"s":8,"t":240,"v":5.13},
      {"s":9,"t":0,"v":0},{"s":9,"t":2.5,"v":0.08},{"s":9,"t":5,"v":0.42},{"s":9,"t":10,"v":1.0},{"s":9,"t":15,"v":1.97},{"s":9,"t":20,"v":3.0},{"s":9,"t":25,"v":4.1},{"s":9,"t":30,"v":5.3},{"s":9,"t":35,"v":6.45},{"s":9,"t":40,"v":7.5},{"s":9,"t":45,"v":8.28},{"s":9,"t":50,"v":8.9},{"s":9,"t":55,"v":9.37},{"s":9,"t":58,"v":9.5},{"s":9,"t":60,"v":9.45},{"s":9,"t":65,"v":9.37},{"s":9,"t":70,"v":9.2},{"s":9,"t":75,"v":9.08},{"s":9,"t":80,"v":8.91},{"s":9,"t":85,"v":8.82},{"s":9,"t":90,"v":8.66},{"s":9,"t":95,"v":8.54},{"s":9,"t":100,"v":8.43},{"s":9,"t":105,"v":8.36},{"s":9,"t":110,"v":8.22},{"s":9,"t":115,"v":8.17},{"s":9,"t":120,"v":8.02},{"s":9,"t":125,"v":7.97},{"s":9,"t":130,"v":7.86},{"s":9,"t":135,"v":7.79},{"s":9,"t":140,"v":7.71},{"s":9,"t":145,"v":7.65},{"s":9,"t":150,"v":7.56},{"s":9,"t":155,"v":7.51},{"s":9,"t":160,"v":7.44},{"s":9,"t":165,"v":7.42},{"s":9,"t":170,"v":7.36},{"s":9,"t":175,"v":7.33},{"s":9,"t":180,"v":7.21},{"s":9,"t":185,"v":7.25},{"s":9,"t":190,"v":7.12},{"s":9,"t":195,"v":7.12},{"s":9,"t":200,"v":7.05},{"s":9,"t":205,"v":7.08},{"s":9,"t":210,"v":6.96},{"s":9,"t":215,"v":6.98},{"s":9,"t":220,"v":6.9},{"s":9,"t":225,"v":6.94},{"s":9,"t":230,"v":6.82},{"s":9,"t":235,"v":6.87},{"s":9,"t":240,"v":6.8}
    ]
  },
  "vconcat": [
    {
      "title": {"text": "I(L1)"},
      "width": 1230,
      "height": 288,
      "data": {"name": "cur"},
      "mark": {"type": "line", "strokeWidth": 1.6, "clip": true},
      "encoding": {
        "x": {
          "field": "t", "type": "quantitative",
          "scale": {"domain": [0, 240], "nice": false, "zero": false},
          "axis": {
            "values": [0, 20, 40, 60, 80, 100, 120, 140, 160, 180, 200, 220, 240],
            "labels": false, "ticks": false, "grid": true, "gridDash": [3, 3],
            "minExtent": 0, "maxExtent": 0,
            "gridOpacity": {"condition": {"test": "datum.value == 0 || datum.value == 240", "value": 0}, "value": 1}
          }
        },
        "y": {
          "field": "v", "type": "quantitative",
          "scale": {"domain": [-1, 11], "nice": false, "zero": false},
          "axis": {
            "values": [-1, 0, 1, 2, 3, 4, 5, 6, 7, 8, 9, 10, 11],
            "labelExpr": "datum.value + 'A'",
            "tickSize": 9, "labelPadding": 1, "grid": true, "gridDash": [2, 2],
            "gridOpacity": {"condition": {"test": "datum.value == -1 || datum.value == 11", "value": 0}, "value": 1}
          }
        },
        "color": {
          "field": "s", "type": "nominal",
          "scale": {"domain": [1, 2, 3, 4, 5, 6, 7, 8, 9], "range": ["#00ff00", "#0000ff", "#ff0000", "#00b0b8", "#ff00ff", "#808080", "#008000", "#0000a0", "#bf8a1f"]},
          "legend": null
        }
      }
    },
    {
      "title": {"text": "V(u)"},
      "width": 1230,
      "height": 291,
      "data": {"name": "volt"},
      "mark": {"type": "line", "strokeWidth": 1.6, "clip": true},
      "encoding": {
        "x": {
          "field": "t", "type": "quantitative",
          "scale": {"domain": [0, 240], "nice": false, "zero": false},
          "axis": {
            "values": [0, 20, 40, 60, 80, 100, 120, 140, 160, 180, 200, 220, 240],
            "labelExpr": "datum.value + 'µs'",
            "tickSize": 7, "labelPadding": 1, "grid": true, "gridDash": [3, 3],
            "gridOpacity": {"condition": {"test": "datum.value == 0 || datum.value == 240", "value": 0}, "value": 1}
          }
        },
        "y": {
          "field": "v", "type": "quantitative",
          "scale": {"domain": [0, 10], "nice": false, "zero": false},
          "axis": {
            "values": [0, 1, 2, 3, 4, 5, 6, 7, 8, 9, 10],
            "labelExpr": "datum.value + 'V'",
            "tickSize": 9, "labelPadding": 1, "grid": true, "gridDash": [2, 2],
            "gridOpacity": {"condition": {"test": "datum.value == 0 || datum.value == 10", "value": 0}, "value": 1}
          }
        },
        "color": {
          "field": "s", "type": "nominal",
          "scale": {"domain": [1, 2, 3, 4, 5, 6, 7, 8, 9], "range": ["#00ff00", "#0000ff", "#ff0000", "#00b0b8", "#ff00ff", "#808080", "#008000", "#0000a0", "#bf8a1f"]},
          "legend": null
        }
      }
    }
  ]
}
